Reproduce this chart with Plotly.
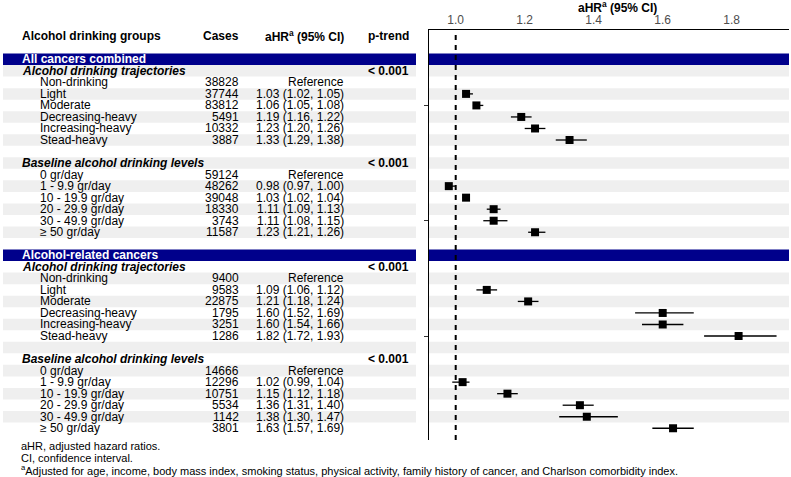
import plotly.graph_objects as go

# ---------------- data ----------------
sections = ["All cancers combined", "Alcohol-related cancers"]
subgroups = ["Alcohol drinking trajectories", "Baseline alcohol drinking levels"]
traj_labels = ["Non-drinking", "Light", "Moderate", "Decreasing-heavy", "Increasing-heavy", "Stead-heavy"]
base_labels = ["0 gr/day", "1 - 9.9 gr/day", "10 - 19.9 gr/day", "20 - 29.9 gr/day", "30 - 49.9 gr/day", "≥ 50 gr/day"]

all_traj_cases = [38828, 37744, 83812, 5491, 10332, 3887]
all_traj_hr = [None, 1.03, 1.06, 1.19, 1.23, 1.33]
all_traj_lo = [None, 1.02, 1.05, 1.16, 1.20, 1.29]
all_traj_hi = [None, 1.05, 1.08, 1.22, 1.26, 1.38]

all_base_cases = [59124, 48262, 39048, 18330, 3743, 11587]
all_base_hr = [None, 0.98, 1.03, 1.11, 1.11, 1.23]
all_base_lo = [None, 0.97, 1.02, 1.09, 1.08, 1.21]
all_base_hi = [None, 1.00, 1.04, 1.13, 1.15, 1.26]

rel_traj_cases = [9400, 9583, 22875, 1795, 3251, 1286]
rel_traj_hr = [None, 1.09, 1.21, 1.60, 1.60, 1.82]
rel_traj_lo = [None, 1.06, 1.18, 1.52, 1.54, 1.72]
rel_traj_hi = [None, 1.12, 1.24, 1.69, 1.66, 1.93]

rel_base_cases = [14666, 12296, 10751, 5534, 1142, 3801]
rel_base_hr = [None, 1.02, 1.15, 1.36, 1.38, 1.63]
rel_base_lo = [None, 0.99, 1.12, 1.31, 1.30, 1.57]
rel_base_hi = [None, 1.04, 1.18, 1.40, 1.47, 1.69]

p_trend = ["< 0.001", "< 0.001", "< 0.001", "< 0.001"]

x_ticks = [1.0, 1.2, 1.4, 1.6, 1.8]

footnotes = [
    "aHR, adjusted hazard ratios.",
    "CI, confidence interval.",
    "<sup>a</sup>Adjusted for age, income, body mass index, smoking status, physical activity, family history of cancer, and Charlson comorbidity index.",
]

blocks = [
    [(all_traj_cases, all_traj_hr, all_traj_lo, all_traj_hi, traj_labels),
     (all_base_cases, all_base_hr, all_base_lo, all_base_hi, base_labels)],
    [(rel_traj_cases, rel_traj_hr, rel_traj_lo, rel_traj_hi, traj_labels),
     (rel_base_cases, rel_base_hr, rel_base_lo, rel_base_hi, base_labels)],
]

# ---------------- geometry helpers ----------------
W, H = 791, 477
ROW0, ROWH = 59.3, 11.53


def pix2row(p):
    return (p - ROW0) / ROWH


PX_ONE, PX_PER = 455.7, 345.0


def pix2x(p):
    return 1 + (p - PX_ONE) / PX_PER


PANEL_L, PANEL_R, PANEL_T, PANEL_B = 429, 789, 30, 440

# ---------------- build rows ----------------
rows = []
r = 0
pi = 0
for si, sec in enumerate(sections):
    rows.append(dict(kind="section", label=sec, row=r)); r += 1
    for gi, (cases, hr, lo, hi, labels) in enumerate(blocks[si]):
        rows.append(dict(kind="sub", label=subgroups[gi], row=r, p=p_trend[pi])); r += 1; pi += 1
        for k in range(len(labels)):
            if hr[k] is None:
                txt_ = "Reference"
            else:
                txt_ = f"{hr[k]:.2f} ({lo[k]:.2f}, {hi[k]:.2f})"
            rows.append(dict(kind="item", label=labels[k], row=r, cases=cases[k], text=txt_,
                             hr=hr[k], lo=lo[k], hi=hi[k])); r += 1
        if not (si == len(sections) - 1 and gi == len(blocks[si]) - 1):
            rows.append(dict(kind="blank", row=r)); r += 1

fig = go.Figure()

# invisible trace that creates the table axes
fig.add_trace(go.Scatter(x=[0], y=[0], xaxis="x", yaxis="y", mode="markers",
                         marker=dict(size=1, opacity=0), hoverinfo="skip"))

# forest points
pts = [d for d in rows if d["kind"] == "item" and d["hr"] is not None]
fig.add_trace(go.Scatter(
    x=[d["hr"] for d in pts], y=[d["row"] for d in pts], xaxis="x2", yaxis="y2",
    mode="markers", marker=dict(symbol="square", size=8, color="black"),
    error_x=dict(type="data", symmetric=False,
                 array=[d["hi"] - d["hr"] for d in pts],
                 arrayminus=[d["hr"] - d["lo"] for d in pts],
                 color="black", thickness=1.3, width=0),
    hoverinfo="skip"))

shapes = []
GRAY = "#EFEFEF"
NAVY = "#00008B"
for d in rows:
    rr = d["row"]
    if d["kind"] == "section":
        col = NAVY
    elif rr % 2 == 1:
        col = GRAY
    else:
        continue
    shapes.append(dict(type="rect", xref="x", yref="y", x0=3, x1=416, y0=rr - 0.5, y1=rr + 0.5,
                       fillcolor=col, line=dict(width=0), layer="below"))
    shapes.append(dict(type="rect", xref="x", yref="y", x0=PANEL_L, x1=PANEL_R, y0=rr - 0.5, y1=rr + 0.5,
                       fillcolor=col, line=dict(width=0), layer="below"))

shapes.append(dict(type="line", xref="x2", yref="y2 domain", x0=1, x1=1, y0=0, y1=1,
                   line=dict(color="black", width=2, dash="5px,5px"), layer="above"))

ann = []


def txt(x, y, s, anchor="left", bold=False, italic=False, color="black", size=12):
    if italic:
        s = f"<i>{s}</i>"
    if bold:
        s = f"<b>{s}</b>"
    ann.append(dict(x=x, y=y, xref="x", yref="y", text=s, showarrow=False,
                    xanchor=anchor, yanchor="middle", font=dict(color=color, size=size)))


hdr = -2
txt(20, hdr, "Alcohol drinking groups", bold=True)
txt(241, hdr, "Cases", anchor="right", bold=True)
txt(346, hdr, "aHR<sup>a</sup> (95% CI)", anchor="right", bold=True)
txt(411, hdr, "p-trend", anchor="right", bold=True)

for d in rows:
    rr = d["row"]
    if d["kind"] == "section":
        txt(20, rr, d["label"], bold=True, color="white")
    elif d["kind"] == "sub":
        txt(20, rr, d["label"], bold=True, italic=True)
        txt(411, rr, d["p"], anchor="right", bold=True)
    elif d["kind"] == "item":
        txt(38, rr, d["label"])
        txt(241, rr, str(d["cases"]), anchor="right")
        txt(346, rr, d["text"], anchor="right")

ann.append(dict(x=617, y=1 - 7 / H, xref="x", yref="paper", text="<b>aHR<sup>a</sup> (95% CI)</b>",
                showarrow=False, xanchor="center", yanchor="middle", font=dict(size=12, color="black")))

for i, f in enumerate(footnotes):
    ann.append(dict(x=19, y=1 - (446 + 12 * i) / H, xref="x", yref="paper", text=f,
                    showarrow=False, xanchor="left", yanchor="middle", font=dict(size=11, color="black")))

fig.update_layout(
    width=W, height=H, margin=dict(l=0, r=0, t=0, b=0), showlegend=False,
    plot_bgcolor="rgba(0,0,0,0)", paper_bgcolor="white",
    font=dict(family="Liberation Sans, Arial, sans-serif", size=12, color="black"),
    xaxis=dict(domain=[0, 1], range=[0, W], visible=False, anchor="y", fixedrange=True),
    yaxis=dict(domain=[0, 1], range=[pix2row(H), pix2row(0)], visible=False, anchor="x", fixedrange=True),
    xaxis2=dict(domain=[PANEL_L / W, PANEL_R / W], range=[pix2x(PANEL_L), pix2x(PANEL_R)],
                anchor="y2", side="top", tickvals=x_ticks, ticktext=[f"{v:.1f}" for v in x_ticks],
                showline=True, linecolor="black", linewidth=1, showgrid=False, zeroline=False,
                ticks="", tickfont=dict(size=12, color="#4D4D4D")),
    yaxis2=dict(domain=[1 - PANEL_B / H, 1 - PANEL_T / H], range=[pix2row(PANEL_B), pix2row(PANEL_T)],
                anchor="x2", showline=True, linecolor="black", linewidth=1.5, showgrid=False, zeroline=False,
                ticks="outside", ticklen=4, tickcolor="#333333", tickvals=[4, 14, 24], showticklabels=False),
    shapes=shapes, annotations=ann,
)

fig.write_html("out.html", config={"displayModeBar": False, "staticPlot": True},
               post_script="document.body.style.margin='0';document.body.style.overflow='hidden';")
